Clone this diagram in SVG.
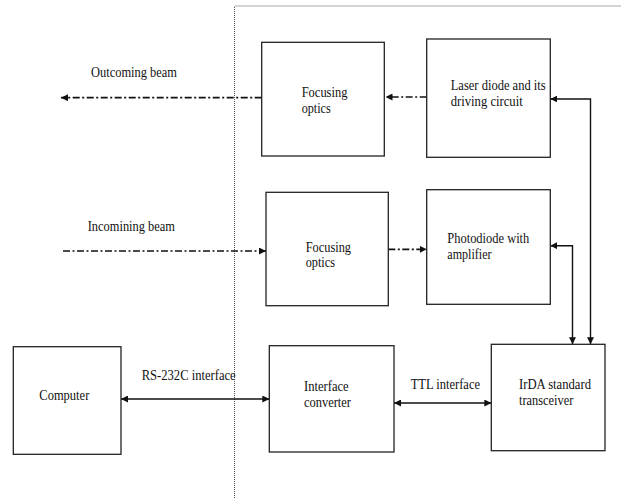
<svg xmlns="http://www.w3.org/2000/svg" width="621" height="498" viewBox="0 0 621 498">
  <style>
    .box { fill: #fff; stroke: #222; stroke-width: 1.3; }
    .lbl { font-family: 'Liberation Serif', 'DejaVu Serif', serif; font-size: 15px; fill: #111; }
    .solid { fill: none; stroke: #111; stroke-width: 1.4; }
    .beam { fill: none; stroke: #111; stroke-width: 1.7; stroke-dasharray: 7 2.5 2 2.5; }
    .bound { fill: none; stroke: #555; stroke-width: 1; stroke-dasharray: 1 1; }
  </style>
  <defs>
    <marker id="ah" viewBox="0 0 10 10" refX="10" refY="5" markerWidth="7" markerHeight="7" markerUnits="userSpaceOnUse" orient="auto-start-reverse">
      <path d="M0,0 L10,5 L0,10 z" fill="#111"/>
    </marker>
  </defs>

  <rect width="621" height="498" fill="#fff"/>

  <!-- device boundary -->
  <g id="boundary">
    <path class="bound" d="M234.5,498 V6 H621"/>
  </g>

  <!-- connectors -->
  <g id="connectors">
    <path class="beam" d="M261.7,97.7 H61" marker-end="url(#ah)"/>
    <path class="beam" d="M426.7,97 H385.5" marker-end="url(#ah)"/>
    <path class="beam" d="M63,251 H266" marker-end="url(#ah)"/>
    <path class="beam" d="M388.3,249.3 H426.7" marker-end="url(#ah)"/>
    <path class="solid" d="M550.3,99 H590.5 V344.3" marker-start="url(#ah)" marker-end="url(#ah)"/>
    <path class="solid" d="M550.3,245.7 H572.5 V344.3" marker-start="url(#ah)" marker-end="url(#ah)"/>
    <path class="solid" d="M121,399 H269.3" marker-start="url(#ah)" marker-end="url(#ah)"/>
    <path class="solid" d="M394,403 H491.3" marker-start="url(#ah)" marker-end="url(#ah)"/>
  </g>

  <!-- free labels -->
  <g id="labels">
    <text class="lbl" x="91" y="77" textLength="86" lengthAdjust="spacingAndGlyphs">Outcoming beam</text>
    <text class="lbl" x="87.7" y="230.5" textLength="87.3" lengthAdjust="spacingAndGlyphs">Incomining beam</text>
    <text class="lbl" x="141.7" y="380" textLength="94" lengthAdjust="spacingAndGlyphs">RS-232C interface</text>
    <text class="lbl" x="410.7" y="389" textLength="69.3" lengthAdjust="spacingAndGlyphs">TTL interface</text>
  </g>

  <g id="focusing-optics-out">
    <rect class="box" x="261.7" y="42.3" width="122.6" height="113.7"/>
    <text class="lbl" x="301.7" y="96.5" textLength="45.7" lengthAdjust="spacingAndGlyphs">Focusing</text>
    <text class="lbl" x="301.7" y="112.5" textLength="29" lengthAdjust="spacingAndGlyphs">optics</text>
  </g>

  <g id="laser-diode">
    <rect class="box" x="426.7" y="39" width="123.6" height="118.3"/>
    <text class="lbl" x="450.7" y="90" textLength="95" lengthAdjust="spacingAndGlyphs">Laser diode and its</text>
    <text class="lbl" x="450.7" y="106" textLength="72" lengthAdjust="spacingAndGlyphs">driving circuit</text>
  </g>

  <g id="focusing-optics-in">
    <rect class="box" x="266" y="192.3" width="122.3" height="113.4"/>
    <text class="lbl" x="305.7" y="251.5" textLength="45.3" lengthAdjust="spacingAndGlyphs">Focusing</text>
    <text class="lbl" x="305.7" y="267.3" textLength="29.3" lengthAdjust="spacingAndGlyphs">optics</text>
  </g>

  <g id="photodiode">
    <rect class="box" x="426.7" y="189.7" width="123.6" height="114.6"/>
    <text class="lbl" x="447.3" y="243.3" textLength="82" lengthAdjust="spacingAndGlyphs">Photodiode with</text>
    <text class="lbl" x="447.3" y="259.3" textLength="44.3" lengthAdjust="spacingAndGlyphs">amplifier</text>
  </g>

  <g id="computer">
    <rect class="box" x="13.3" y="346.7" width="107.7" height="107.6"/>
    <text class="lbl" x="39.3" y="400" textLength="50" lengthAdjust="spacingAndGlyphs">Computer</text>
  </g>

  <g id="interface-converter">
    <rect class="box" x="269.3" y="345.7" width="124.7" height="106.3"/>
    <text class="lbl" x="304" y="390.7" textLength="44.7" lengthAdjust="spacingAndGlyphs">Interface</text>
    <text class="lbl" x="304" y="407.3" textLength="47" lengthAdjust="spacingAndGlyphs">converter</text>
  </g>

  <g id="irda-transceiver">
    <rect class="box" x="491.3" y="344.3" width="113.7" height="106.4"/>
    <text class="lbl" x="519" y="389.3" textLength="72" lengthAdjust="spacingAndGlyphs">IrDA standard</text>
    <text class="lbl" x="519" y="405.3" textLength="54.3" lengthAdjust="spacingAndGlyphs">transceiver</text>
  </g>
</svg>
